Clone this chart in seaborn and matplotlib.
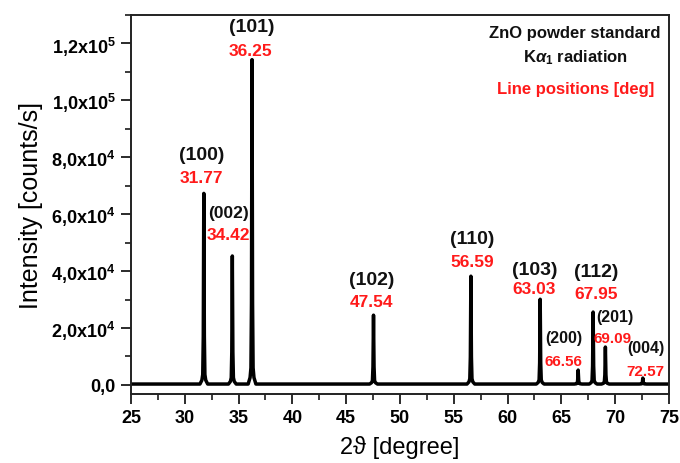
import matplotlib
matplotlib.use("Agg")
import matplotlib.pyplot as plt
from matplotlib.ticker import MultipleLocator, FuncFormatter
import numpy as np
import pandas as pd
import seaborn as sns

# ZnO reflections: Miller indices, line positions [deg] and peak intensities [counts/s]
hkl = ["(100)", "(002)", "(101)", "(102)", "(110)", "(103)", "(200)", "(112)", "(201)", "(004)"]
positions = [31.77, 34.42, 36.25, 47.54, 56.59, 63.03, 66.56, 67.95, 69.09, 72.57]
heights = [67000, 45000, 114000, 24200, 37900, 29800, 4900, 25300, 13000, 2100]

# shared line-shape of a single reflection (offset in deg, fraction of peak height)
shape_offset = [-0.36, -0.18, -0.10, -0.05, 0.0, 0.05, 0.10, 0.18, 0.36]
shape_fraction = [0.0, 0.02, 0.05, 0.25, 1.0, 0.25, 0.05, 0.02, 0.0]

scan_start, scan_end = 25.0, 75.0
background = 300

sns.set_theme(style="ticks")
plt.rcParams["font.family"] = ["Liberation Sans", "DejaVu Sans"]
plt.rcParams["mathtext.fontset"] = "custom"
plt.rcParams["mathtext.rm"] = "Liberation Sans:bold"
plt.rcParams["mathtext.bf"] = "Liberation Sans:bold"
plt.rcParams["mathtext.it"] = "Liberation Sans:italic:bold"

# assemble the diffraction trace
tt = [scan_start]
counts = [background]
for pos, h in zip(positions, heights):
    for off, frac in zip(shape_offset, shape_fraction):
        tt.append(pos + off)
        counts.append(background + frac * h)
tt.append(scan_end)
counts.append(background)
df = pd.DataFrame({"two_theta": tt, "intensity": counts})

fig = plt.figure(figsize=(6.8, 4.64), dpi=100)
ax = fig.add_axes([0.1926, 0.1487, 0.7912, 0.8168])

sns.lineplot(data=df, x="two_theta", y="intensity", sort=False, estimator=None,
             color="black", linewidth=2.5, ax=ax)

ax.set_xlim(25, 75)
ax.set_ylim(-3200, 130000)
ax.xaxis.set_major_locator(MultipleLocator(5))
ax.xaxis.set_minor_locator(MultipleLocator(2.5))
ax.yaxis.set_major_locator(MultipleLocator(20000))
ax.yaxis.set_minor_locator(MultipleLocator(10000))


def sci_label(v, _pos):
    if v < -1:
        return ""
    if abs(v) < 1:
        return "0,0"
    exp = int(np.floor(np.log10(v)))
    mant = v / 10 ** exp
    return f"{mant:.1f}".replace(".", ",") + "x10$^{" + str(exp) + "}$"


ax.yaxis.set_major_formatter(FuncFormatter(sci_label))
ax.tick_params(axis="both", which="major", length=7, width=1.3, labelsize=13, pad=4,
               direction="out", colors="#1a1a1a", labelcolor="black")
ax.tick_params(axis="both", which="minor", length=4, width=1.2, direction="out", colors="#1a1a1a")
for lab in ax.get_xticklabels() + ax.get_yticklabels():
    lab.set_fontweight("bold")
for side in ["left", "right", "top", "bottom"]:
    ax.spines[side].set_visible(True)
    ax.spines[side].set_linewidth(1.4)
    ax.spines[side].set_color("#222222")

ax.set_xlabel("2ϑ [degree]", fontsize=17, labelpad=6, color="black")
ax.set_ylabel("Intensity [counts/s]", fontsize=18, labelpad=6, color="black")

# reflection labels: hkl text (x, y), value text (x, y), font sizes
label_xy = {
    "(100)": (31.60, 81100, 31.55, 73000, 14, 12.5),
    "(002)": (34.10, 60700, 34.10, 53000, 12.5, 12.5),
    "(101)": (36.25, 126100, 36.06, 117600, 14, 12.5),
    "(102)": (47.40, 36900, 47.40, 29200, 14, 12.5),
    "(110)": (56.70, 51600, 56.70, 43500, 14, 12.5),
    "(103)": (62.55, 40700, 62.45, 34000, 14, 12.5),
    "(112)": (68.20, 40000, 68.20, 32000, 14, 12.5),
    "(200)": (65.24, 16500, 65.15, 8400, 11.5, 11),
    "(201)": (69.98, 24200, 69.80, 16500, 11.5, 11),
    "(004)": (72.86, 13000, 72.77, 4900, 11.5, 11),
}
for name, pos in zip(hkl, positions):
    hx, hy, vx, vy, hs, vs = label_xy[name]
    ax.text(hx, hy, name, ha="center", va="center", fontsize=hs, fontweight="bold", color="#111111")
    ax.text(vx, vy, f"{pos:.2f}", ha="center", va="center", fontsize=vs, fontweight="bold", color="#ff1a1a")

ax.text(0.985, 0.955, "ZnO powder standard", transform=ax.transAxes, ha="right", va="center",
        fontsize=12, fontweight="bold", color="#111111")
ax.text(0.826, 0.889, r"K$\alpha_1$ radiation", transform=ax.transAxes, ha="center", va="center",
        fontsize=12, fontweight="bold", color="#111111")
ax.text(0.826, 0.807, "Line positions [deg]", transform=ax.transAxes, ha="center", va="center",
        fontsize=12, fontweight="bold", color="#ff1a1a")

fig.savefig("out.png", dpi=100)
